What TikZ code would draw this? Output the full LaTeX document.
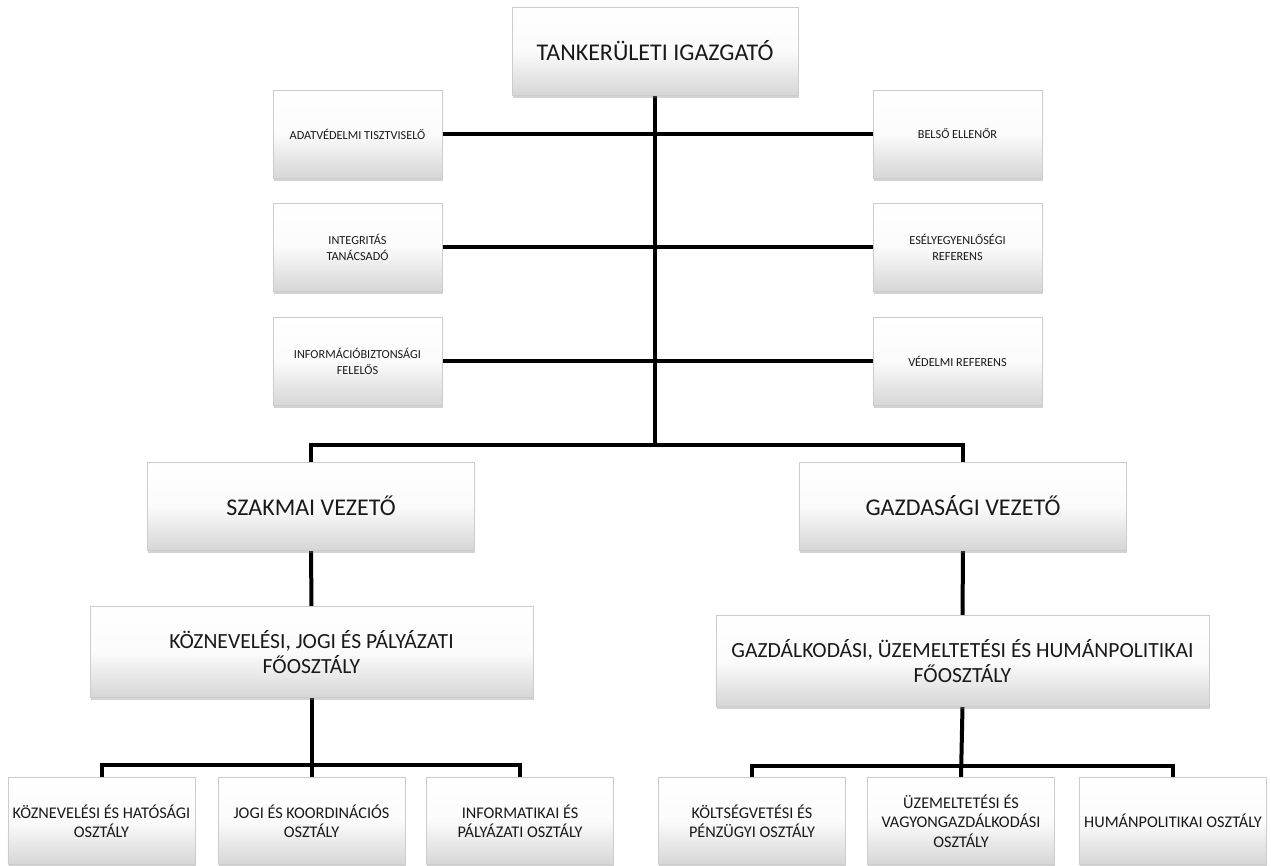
\documentclass[tikz,border=0pt]{standalone}
\usepackage{fontspec}
\setmainfont{Carlito}
\usetikzlibrary{shadows,backgrounds}
\begin{document}
\begin{tikzpicture}[x=0.75pt,y=-0.75pt,
  orgbox/.style={draw=gray!40, line width=0.4pt, top color=white, bottom color=gray!32,
    middle color=gray!3, align=center, inner sep=1pt,
    drop shadow={opacity=0.35, shadow xshift=0.6pt, shadow yshift=-2.2pt},
    text=black!90},
  link/.style={line width=3pt, draw=black}]
\useasboundingbox (0,0) rectangle (1271,865);
% top
\node[orgbox, minimum width=214.5pt, minimum height=66pt, font=\fontsize{18}{21}\selectfont] (top) at (655,51) {TANKERÜLETI IGAZGATÓ};
% staff boxes
\tikzset{staff/.style={orgbox, minimum width=126.75pt, minimum height=66pt, font=\fontsize{9.2}{12}\selectfont}}
\node[staff] (l1) at (357.5,134) {ADATVÉDELMI TISZTVISELŐ};
\node[staff] (l2) at (357.5,247) {INTEGRITÁS\\TANÁCSADÓ};
\node[staff] (l3) at (357.5,361) {INFORMÁCIÓBIZTONSÁGI\\FELELŐS};
\node[staff] (r1) at (957.5,134) {BELSŐ ELLENŐR};
\node[staff] (r2) at (957.5,247) {ESÉLYEGYENLŐSÉGI\\REFERENS};
\node[staff] (r3) at (957.5,361) {VÉDELMI REFERENS};
% leaders
\tikzset{lead/.style={orgbox, minimum width=245pt, minimum height=66pt, font=\fontsize{18}{21}\selectfont}}
\node[lead] (sz) at (311,506) {SZAKMAI VEZETŐ};
\node[lead] (gv) at (963,506) {GAZDASÁGI VEZETŐ};
% departments
\tikzset{dept/.style={orgbox, minimum height=68pt, font=\fontsize{16.2}{18.5}\selectfont}}
\node[dept, minimum width=332pt] (kf) at (311.5,652) {KÖZNEVELÉSI, JOGI ÉS PÁLYÁZATI\\FŐOSZTÁLY};
\node[dept, minimum width=370pt] (gf) at (962.5,661) {GAZDÁLKODÁSI, ÜZEMELTETÉSI ÉS HUMÁNPOLITIKAI\\FŐOSZTÁLY};
% sections
\tikzset{sect/.style={orgbox, minimum width=140.5pt, minimum height=65pt, font=\fontsize{12.2}{14.6}\selectfont}}
\node[sect] (k1) at (101.5,821) {KÖZNEVELÉSI ÉS HATÓSÁGI\\OSZTÁLY};
\node[sect] (k2) at (311.5,821) {JOGI ÉS KOORDINÁCIÓS\\OSZTÁLY};
\node[sect] (k3) at (520,821) {INFORMATIKAI ÉS\\PÁLYÁZATI OSZTÁLY};
\node[sect] (g1) at (752,821) {KÖLTSÉGVETÉSI ÉS\\PÉNZÜGYI OSZTÁLY};
\node[sect] (g2) at (961,821) {ÜZEMELTETÉSI ÉS\\VAGYONGAZDÁLKODÁSI\\OSZTÁLY};
\node[sect] (g3) at (1173,821) {HUMÁNPOLITIKAI OSZTÁLY};
% connectors
\coordinate (hub) at (655,445);
\coordinate (kb) at (311.5,765);
\coordinate (gb) at (962,766);
\begin{pgfonlayer}{background}
\draw[link] (top.south) -- (hub);
\foreach \n in {l1,l2,l3} \draw[link] (\n.east) -- (\n.east -| hub);
\foreach \n in {r1,r2,r3} \draw[link] (\n.west) -- (\n.west -| hub);
\draw[link, line join=miter] (sz.north) -- (sz.north |- hub) -- (gv.north |- hub) -- (gv.north);
\draw[link] (sz.south) -- (kf.north);
\draw[link] (gv.south) -- (gf.north);
\draw[link] (kf.south) -- (k2.north);
\draw[link, line join=miter] (k1.north) -- (k1.north |- kb) -- (k3.north |- kb) -- (k3.north);
\draw[link] (gf.south) -- (g2.north);
\draw[link, line join=miter] (g1.north) -- (g1.north |- gb) -- (g3.north |- gb) -- (g3.north);
\end{pgfonlayer}
\end{tikzpicture}
\end{document}
